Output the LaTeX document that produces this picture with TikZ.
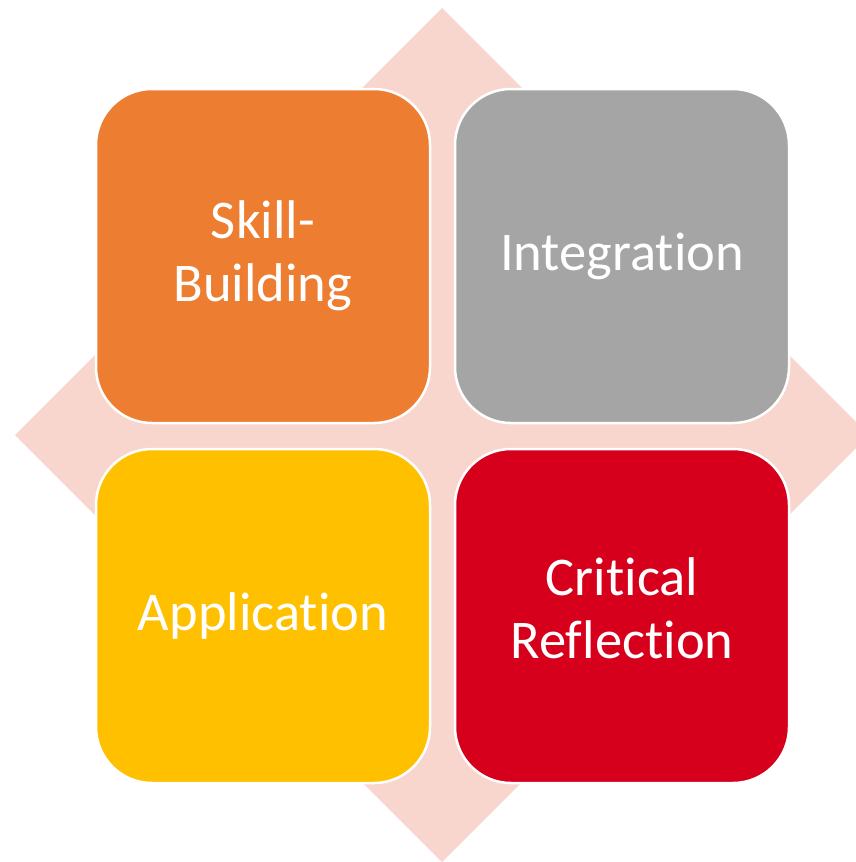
\documentclass[tikz,border=0pt]{standalone}
\usepackage{fontspec}
\setmainfont{Carlito}[Ligatures={NoCommon,NoContextual}]
\definecolor{diam}{RGB}{248,214,206}
\definecolor{corange}{RGB}{237,125,49}
\definecolor{cgray}{RGB}{165,165,165}
\definecolor{cyellow}{RGB}{255,192,0}
\definecolor{cred}{RGB}{214,0,28}
\begin{document}
\begin{tikzpicture}[x=1pt,y=-1pt,
  tile/.style={draw=white,line width=2.5pt,rounded corners=56pt,minimum width=334pt,minimum height=334pt,inner sep=0pt},
  lbl/.style={text=white,align=center,font=\fontsize{54.5}{63}\selectfont,inner sep=0pt}]
\useasboundingbox (0,0) rectangle (856,862);
\begin{scope}
\clip (0,0) rectangle (856,862);
\fill[diam] (442,8) -- (869,435) -- (442,862) -- (15,435) -- cycle;
\end{scope}
\node[tile,fill=corange] (sb) at (263,256) {};
\node[tile,fill=cgray] (in) at (622,256) {};
\node[tile,fill=cyellow] (ap) at (263,616) {};
\node[tile,fill=cred] (cr) at (622,616) {};
\node[lbl] (sbt) at (263,256) {Skill-\\Building};
\node[lbl] (int) at (622,256) {Integration};
\node[lbl] (apt) at (263,616) {Application};
\node[lbl] (crt) at (622,608) {Critical\\Reflection};
\end{tikzpicture}
\end{document}
